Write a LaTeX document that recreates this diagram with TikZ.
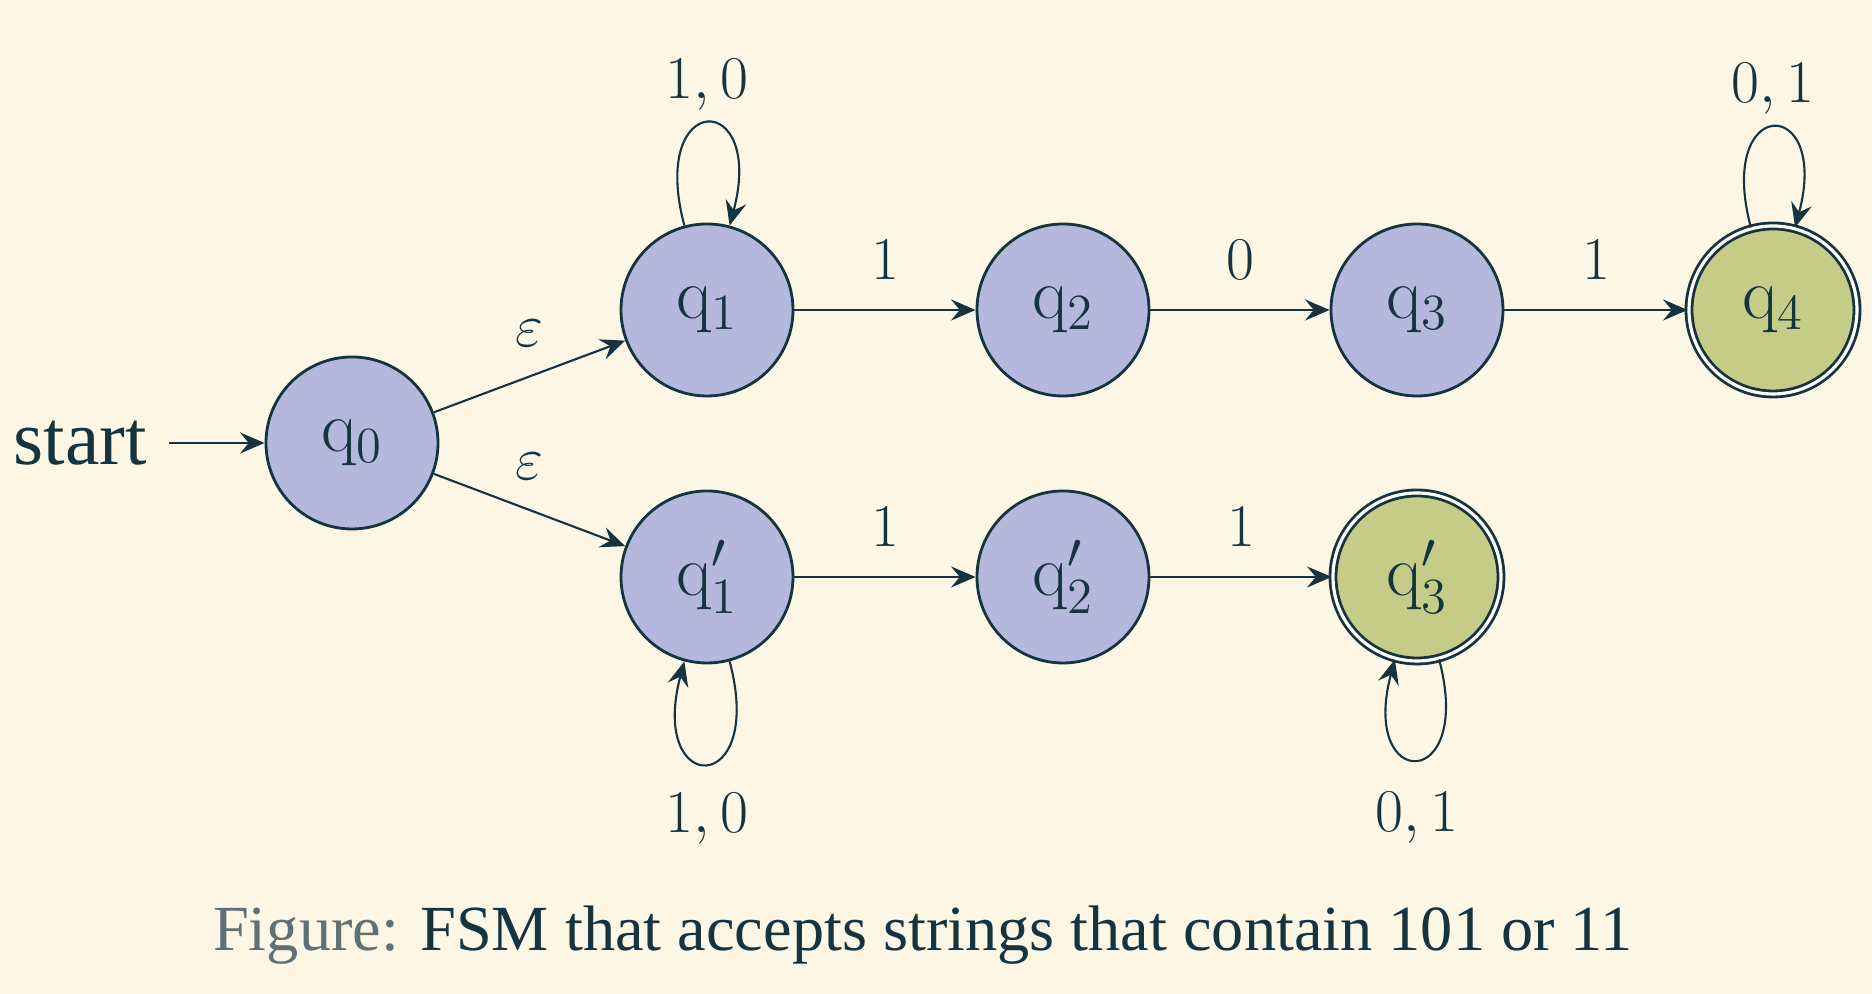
\documentclass[tikz,border=0pt]{standalone}
\usepackage[no-math]{fontspec}
\setmainfont{Liberation Serif}
\usepackage{tikz}
\usetikzlibrary{arrows.meta}
\definecolor{bgcream}{HTML}{FCF6E4}
\definecolor{inkdark}{HTML}{16343F}
\definecolor{statefill}{HTML}{B4B8DC}
\definecolor{finalfill}{HTML}{C4CC88}
\definecolor{capgray}{HTML}{5F7174}

\begin{document}
\begin{tikzpicture}[
    >={Stealth[length=7pt,width=6pt,inset=2.5pt]},
    every node/.style={text=inkdark},
    state/.style={circle, draw=inkdark, line width=0.8pt, fill=statefill,
                  minimum size=1.72cm, inner sep=0pt, font=\fontsize{21}{24}\selectfont},
    final/.style={state, fill=finalfill, double=white, double distance=0.9pt, minimum size=1.68cm},
    edge/.style={->, draw=inkdark, line width=0.6pt},
    lbl/.style={font=\fontsize{17}{20}\selectfont, above=5pt},
    looplbl/.style={font=\fontsize{17}{20}\selectfont}
]
    \useasboundingbox[fill=bgcream] (0,0) rectangle (18.72,9.94);
    % states
    \node[state] (q0) at (3.52,5.51) {$\mathrm{q}_0$};
    \node[state] (q1) at (7.07,6.84) {$\mathrm{q}_1$};
    \node[state] (q2) at (10.63,6.84) {$\mathrm{q}_2$};
    \node[state] (q3) at (14.17,6.84) {$\mathrm{q}_3$};
    \node[final] (q4) at (17.73,6.84) {$\mathrm{q}_4$};
    \node[state] (p1) at (7.07,4.17) {$\mathrm{q}_1'$};
    \node[state] (p2) at (10.63,4.17) {$\mathrm{q}_2'$};
    \node[final] (p3) at (14.17,4.17) {$\mathrm{q}_3'$};
    \node[font=\fontsize{22}{26}\selectfont, inner xsep=0.22cm] (start) at (0.80,5.51) {start};
    % transitions
    \draw[edge] (start) -- (q0);
    \draw[edge] (q0) -- node[lbl] {$\varepsilon$} (q1);
    \draw[edge] (q0) -- node[lbl] {$\varepsilon$} (p1);
    \draw[edge] (q1) -- node[lbl] {$1$} (q2);
    \draw[edge] (q2) -- node[lbl] {$0$} (q3);
    \draw[edge] (q3) -- node[lbl] {$1$} (q4);
    \draw[edge] (p1) -- node[lbl] {$1$} (p2);
    \draw[edge] (p2) -- node[lbl] {$1$} (p3);
    \draw[edge] (q1) to[loop above] node[looplbl, above] {$1,0$} (q1);
    \draw[edge] (q4) to[loop above] node[looplbl, above] {$0,1$} (q4);
    \draw[edge] (p1) to[loop below] node[looplbl, below, yshift=-0.17cm] {$1,0$} (p1);
    \draw[edge] (p3) to[loop below] node[looplbl, below, yshift=-0.2cm] {$0,1$} (p3);
    % caption
    \node[font=\fontsize{18.3}{22}\selectfont] (cap) at (9.23,0.59)
        {\textcolor{capgray}{Figure:} FSM that accepts strings that contain 101 or 11};
\end{tikzpicture}
\end{document}
